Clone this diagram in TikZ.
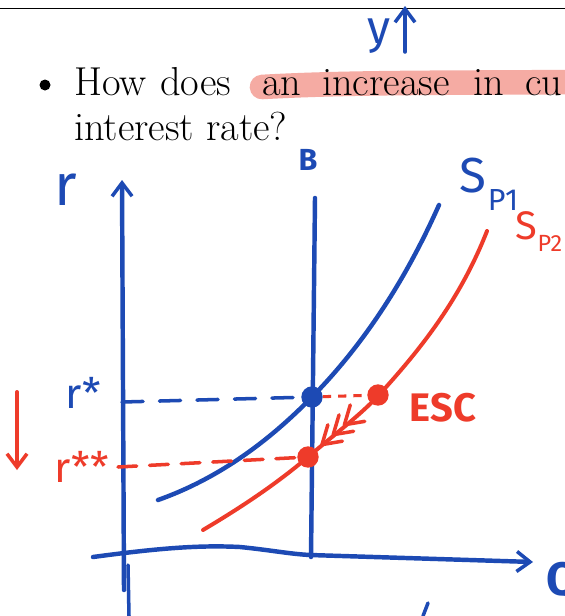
\documentclass[tikz,border=0pt]{standalone}
\usepackage{fontspec}
\newfontfamily\handfont{Fira Sans}
\usetikzlibrary{arrows.meta,positioning,calc}
\definecolor{inkblue}{HTML}{1D4AB4}
\definecolor{inkred}{HTML}{EE3B2A}
\definecolor{hlpink}{HTML}{F5ABA3}
\tikzset{
  bink/.style={draw=inkblue,line width=3.8pt,line cap=round,line join=round},
  rink/.style={draw=inkred,line width=3.4pt,line cap=round,line join=round},
  barb/.style={-{Straight Barb[length=4mm,width=6mm,line width=3pt]}},
  bdot/.style={circle,fill=inkblue,inner sep=0pt,minimum size=6.4mm},
  rdot/.style={circle,fill=inkred,inner sep=0pt,minimum size=6.4mm},
  word/.style={anchor=base west,inner sep=0pt,font=\fontsize{34.5}{42}\selectfont},
  blbl/.style={text=inkblue,inner sep=0pt,font=\handfont},
  rlbl/.style={text=inkred,inner sep=0pt,font=\handfont},
}
\begin{document}
\begin{tikzpicture}[x=0.03cm,y=-0.03cm]
\useasboundingbox (0,0) rectangle (565,616);
\clip (0,0) rectangle (565,616);
\fill[white] (0,0) rectangle (565,616);
% slide
\draw[black,line width=0.8pt] (0,8) -- (565,8);
\draw[hlpink,line width=21pt,line cap=round] (262,87) .. controls (350,82) and (450,83) .. (580,82);
\fill (45,85) circle (5.5);
\node[word] (w1) at (74,95) {How};
\node[word] (w2) at (160,95) {does};
\node[word] (w3) at (262,95) {an};
\node[word] (w4) at (322,95) {increase};
\node[word] (w5) at (473,95) {in};
\node[word] (w6) at (525,95) {cu};
\node[word] (w7) at (74,140) {interest rate?};
% y up
\node[blbl,font=\handfont\fontsize{40}{40}\selectfont] (ylbl) at (379,36) {y};
\coordinate (ybot) at (405,52);
\coordinate (ytop) at (405,6);
\draw[bink,barb,line width=3pt] (ybot) -- (ytop);
% axes
\coordinate (o) at (124,590);
\coordinate (rtop) at (122,180);
\draw[bink,barb] (o) -- (rtop);
\draw[bink,line width=3pt] (128,565) -- (129,616);
\coordinate (qleft) at (93,557);
\coordinate (qright) at (533,562);
\draw[bink,barb] (qleft) .. controls (160,548) and (200,545) .. (240,547)
  .. controls (270,550) and (290,554) .. (310,555) -- (qright);
\node[blbl,font=\handfont\bfseries\fontsize{40}{40}\selectfont,anchor=west] (qlbl) at (546,582) {Q};
\node[blbl,font=\handfont\fontsize{50}{50}\selectfont] (rlbl) at (66,190) {r};
% B
\coordinate (btop) at (315,198);
\coordinate (bbot) at (311,557);
\draw[bink] (btop) -- (bbot);
\node[blbl,font=\handfont\bfseries\fontsize{26}{26}\selectfont] (blab) at (308,160) {B};
% supply curves
\draw[bink] (158,500) .. controls (220,478) and (270,440) .. (312,397)
  .. controls (370,338) and (410,270) .. (439,205);
\draw[rink] (203,530) .. controls (240,508) and (275,485) .. (308,457)
  .. controls (340,430) and (360,415) .. (378,396)
  .. controls (420,350) and (460,300) .. (487,231);
\node[blbl,font=\handfont\fontsize{42}{42}\selectfont] (sp1) at (473,176) {S};
\node[blbl,font=\handfont\fontsize{26}{26}\selectfont] (p1) at (503,200) {P1};
\node[rlbl,font=\handfont\fontsize{34}{34}\selectfont] (sp2) at (526,226) {S};
\node[rlbl,font=\handfont\fontsize{20}{20}\selectfont] (p2) at (550,243) {P2};
% equilibria
\node[bdot] (e1) at (312,397) {};
\node[rdot] (e2) at (378,395) {};
\node[rdot] (e3) at (308,457) {};
\coordinate (rs) at (122,402);
\coordinate (rss) at (118,467);
\draw[inkblue,line width=3pt,line cap=round,dash pattern=on 18pt off 14pt] (rs) -- (e1);
\draw[inkred,line width=2.6pt,dash pattern=on 7pt off 6pt] (e1) -- (e2);
\draw[inkred,line width=3pt,line cap=round,dash pattern=on 16pt off 11pt] (rss) -- (e3);
% adjustment barbs
\foreach \t in {0.2,0.36,0.52}{
  \coordinate (tip) at ($(e3)!\t!(e2)$);
  \draw[inkred,line width=3pt,line cap=round,line join=round]
    ($(tip)!0.62cm!32:(e2)$) -- (tip) -- ($(tip)!0.62cm!-32:(e2)$);
}
\node[rlbl,font=\handfont\bfseries\fontsize{34}{34}\selectfont] (esc) at (443,408) {ESC};
% rate labels
\node[blbl,font=\handfont\fontsize{36}{36}\selectfont] (rstar) at (83,393) {r*};
\node[rlbl,font=\handfont\fontsize{36}{36}\selectfont] (rsstar) at (82,467) {r**};
\coordinate (dtop) at (17,392);
\coordinate (dbot) at (17,470);
\draw[rink,barb] (dtop) -- (dbot);
\draw[bink,line width=3pt] (423,616) -- (428,603);
\end{tikzpicture}
\end{document}
